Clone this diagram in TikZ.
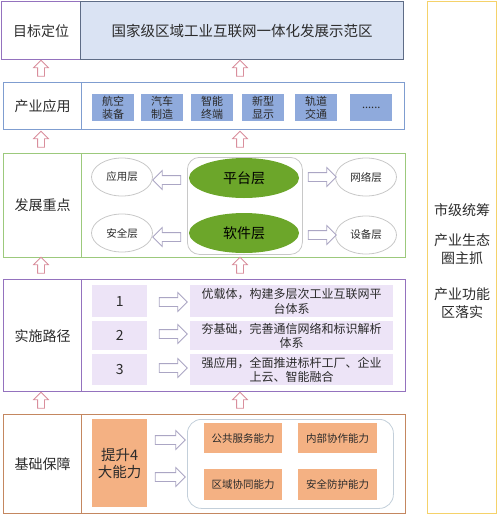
\documentclass[tikz,border=0pt]{standalone}
\usepackage{fontspec}
\setmainfont{Noto Sans CJK SC}
\usetikzlibrary{shapes.arrows,shapes.geometric}
\definecolor{cPurple}{HTML}{9472BE}
\definecolor{cSlate}{HTML}{5E6C86}
\definecolor{cLightBlue}{HTML}{DAE3F3}
\definecolor{cBlue}{HTML}{7F9DD0}
\definecolor{cItem}{HTML}{8FAADC}
\definecolor{cGreen}{HTML}{9CC97C}
\definecolor{cLeaf}{HTML}{6CA62A}
\definecolor{cGreyLine}{HTML}{C8C8C8}
\definecolor{cLav}{HTML}{EDE4F7}
\definecolor{cBrown}{HTML}{C48760}
\definecolor{cOrange}{HTML}{F4B183}
\definecolor{cGold}{HTML}{F5D26A}
\definecolor{cPink}{HTML}{D98E9C}
\definecolor{cArrow}{HTML}{ABA6C4}
\definecolor{cText}{HTML}{2B2B2B}
\definecolor{cRound}{HTML}{C3CFDA}
\newcommand{\fs}[1]{\fontsize{#1pt}{#1pt}\selectfont}
\begin{document}
\begin{tikzpicture}[x=1pt,y=-1pt,
  box/.style={draw, line width=1.3pt, inner sep=0pt, anchor=north west, align=center, text=cText},
  fillbox/.style={inner sep=0pt, anchor=north west, align=center, text=cText},
  lbl/.style={font=\fs{14}},
  uparrow/.style={single arrow, draw=cPink, fill=white, line width=0.8pt, inner sep=3pt,
    minimum height=16pt, single arrow head extend=4pt,
    single arrow head indent=0pt, shape border rotate=90},
  harrow/.style={single arrow, draw=cArrow, fill=white, line width=0.8pt, inner sep=4pt,
    minimum height=28pt, single arrow head extend=5pt,
    single arrow head indent=0pt},
  smallell/.style={ellipse, draw=cGreyLine, line width=0.8pt, fill=white, inner sep=0pt,
    minimum width=61pt, minimum height=38pt, font=\fs{10.5}, text=cText},
  bigell/.style={ellipse, fill=cLeaf, inner sep=0pt, minimum width=110pt,
    minimum height=40pt, font=\fs{14}, text=black},
  item/.style={fillbox, fill=cItem, minimum width=42pt, minimum height=27pt,
    font=\fontsize{11pt}{13pt}\selectfont},
  capbox/.style={fillbox, fill=cOrange, minimum width=78pt, minimum height=30pt, font=\fs{10.5}},
  lav/.style={fillbox, fill=cLav},
  side/.style={align=center, font=\fontsize{14pt}{18pt}\selectfont, text=cText}
]
\useasboundingbox (0,0) rectangle (499,515);

% Row 1
\node[box, lbl, draw=cPurple, minimum width=79pt, minimum height=58pt] (l1) at (1,1) {目标定位};
\node[box, draw=cSlate, fill=cLightBlue, minimum width=323pt, minimum height=58pt, font=\fs{14.5}] (m1) at (80,1) {国家级区域工业互联网一体化发展示范区};

% Row 2
\node[box, lbl, draw=cBlue, minimum width=78pt, minimum height=47pt] (l2) at (3,82) {产业应用};
\node[box, draw=cBlue, minimum width=323pt, minimum height=47pt] (m2) at (81,82) {};
\node[item] (i1) at (92,94) {航空\\装备};
\node[item] (i2) at (141,94) {汽车\\制造};
\node[item] (i3) at (191,94) {智能\\终端};
\node[item] (i4) at (242,94) {新型\\显示};
\node[item] (i5) at (295,94) {轨道\\交通};
\node[item] (i6) at (350,94) {......};

% Row 3
\node[box, lbl, draw=cGreen, minimum width=78pt, minimum height=104pt] (l3) at (3,153) {发展重点};
\node[box, draw=cGreen, minimum width=324pt, minimum height=104pt] (m3) at (81,153) {};
\node[box, draw=cGreyLine, line width=0.8pt, rounded corners=12pt, minimum width=115pt, minimum height=97pt] (core) at (187,157) {};
\node[bigell] (plat) at (244,178) {平台层};
\node[bigell] (soft) at (244,233) {软件层};
\node[smallell] (app) at (122,177) {应用层};
\node[smallell] (sec) at (122,233) {安全层};
\node[smallell] (net) at (366,177) {网络层};
\node[smallell] (dev) at (366,235) {设备层};
\node[harrow, shape border rotate=180] (ha1) at (169,180) {};
\node[harrow, shape border rotate=180] (ha2) at (169,237) {};
\node[harrow] (ha3) at (320,177) {};
\node[harrow] (ha4) at (320,235) {};

% Row 4
\node[box, lbl, draw=cPurple, minimum width=78pt, minimum height=112pt] (l4) at (3,279) {实施路径};
\node[box, draw=cPurple, minimum width=324pt, minimum height=112pt] (m4) at (81,279) {};
\node[lav, minimum width=55pt, minimum height=32pt, font=\fs{14}] (n1) at (92,285) {1};
\node[lav, minimum width=55pt, minimum height=29pt, font=\fs{14}] (n2) at (92,321) {2};
\node[lav, minimum width=55pt, minimum height=31pt, font=\fs{14}] (n3) at (92,354) {3};
\node[lav, minimum width=203pt, minimum height=32pt, font=\fontsize{12pt}{14.5pt}\selectfont] (p1) at (190,285) {优载体，构建多层次工业互联网平\\台体系};
\node[lav, minimum width=203pt, minimum height=29pt, font=\fontsize{12pt}{14.5pt}\selectfont] (p2) at (190,321) {夯基础，完善通信网络和标识解析\\体系};
\node[lav, minimum width=203pt, minimum height=31pt, font=\fontsize{12pt}{14.5pt}\selectfont] (p3) at (190,354) {强应用，全面推进标杆工厂、企业\\上云、智能融合};
\node[harrow] (pa1) at (171,302) {};
\node[harrow] (pa2) at (171,334) {};
\node[harrow] (pa3) at (171,368) {};

% Row 5
\node[box, lbl, draw=cBrown, minimum width=78pt, minimum height=99pt] (l5) at (3,414) {基础保障};
\node[box, draw=cBrown, minimum width=324pt, minimum height=99pt] (m5) at (81,414) {};
\node[fillbox, fill=cOrange, minimum width=55pt, minimum height=88pt, font=\fontsize{14.5pt}{17pt}\selectfont] (up4) at (92,419) {提升4\\大能力};
\node[box, draw=cRound, line width=0.8pt, rounded corners=14pt, minimum width=206pt, minimum height=89pt] (caps) at (187,419) {};
\node[capbox] (c1) at (204,423) {公共服务能力};
\node[capbox, minimum width=79pt] (c2) at (298,423) {内部协作能力};
\node[capbox, minimum height=31pt] (c3) at (204,469) {区域协同能力};
\node[capbox, minimum width=79pt, minimum height=31pt] (c4) at (298,469) {安全防护能力};
\node[harrow, minimum height=30pt] (ba1) at (168,440) {};
\node[harrow, minimum height=30pt] (ba2) at (168,477) {};

% Up arrows
\node[uparrow] (u1a) at (41,70) {};
\node[uparrow] (u1b) at (240,70) {};
\node[uparrow] (u2a) at (41,141) {};
\node[uparrow] (u2b) at (240,141) {};
\node[uparrow] (u3a) at (41,267) {};
\node[uparrow] (u3b) at (240,267) {};
\node[uparrow] (u4a) at (41,402) {};
\node[uparrow] (u4b) at (240,402) {};

% Right column
\node[box, draw=cGold, minimum width=69pt, minimum height=512pt] (rc) at (427,1) {};
\node[side] (s1) at (462,210) {市级统筹};
\node[side] (s2) at (462,249) {产业生态\\圈主抓};
\node[side] (s3) at (462,303) {产业功能\\区落实};
\end{tikzpicture}
\end{document}
